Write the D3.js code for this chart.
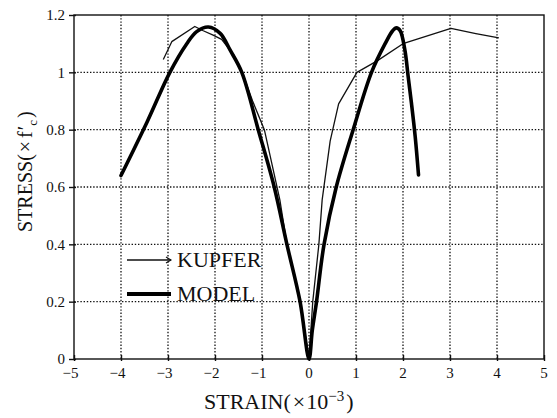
<!DOCTYPE html>
<html>
<head>
<meta charset="utf-8">
<script src="https://cdn.jsdelivr.net/npm/d3@7"></script>
<style>
  body { margin: 0; background: #fff; }
  svg { display: block; font-family: "Liberation Serif", "Times New Roman", "DejaVu Serif", serif; }
</style>
</head>
<body>
<div id="chart"></div>
<script>
// values (strain x10^-3, stress x f'c)
var kupferStrain = [-3.1, -2.92, -2.43, -2.25, -2.04, -1.86, -1.6, -1.4, -1.2, -0.95, -0.62, -0.47, -0.19, 0,
                    0.08, 0.21, 0.28, 0.45, 0.63, 1.02, 1.45, 2.0, 3.02, 3.55, 4.04];
var kupferStress = [1.045, 1.107, 1.16, 1.145, 1.13, 1.115, 1.06, 0.99, 0.9, 0.8, 0.555, 0.4, 0.2, 0,
                    0.2, 0.4, 0.555, 0.76, 0.89, 1.0, 1.04, 1.1, 1.153, 1.135, 1.12];

var modelStrain = [-4, -3.45, -2.96, -2.6, -2.39, -2.14, -1.89, -1.68, -1.43, -1.08, -0.74, -0.47, -0.19, 0,
                   0.07, 0.16, 0.32, 0.58, 0.94, 1.33, 1.62, 1.78, 1.86, 1.94, 2.04, 2.11, 2.18, 2.26, 2.33];
var modelStress = [0.64, 0.825, 1.0, 1.1, 1.142, 1.158, 1.136, 1.078, 1.0, 0.8, 0.6, 0.4, 0.2, 0,
                   0.1, 0.2, 0.4, 0.6, 0.8, 1.0, 1.1, 1.145, 1.155, 1.145, 1.078, 0.985, 0.892, 0.775, 0.642];

var xTicks = [-5, -4, -3, -2, -1, 0, 1, 2, 3, 4, 5];
var yTicks = [0, 0.2, 0.4, 0.6, 0.8, 1, 1.2];
var seriesNames = ['KUPFER', 'MODEL'];

var w = 557, h = 418;
var pL = 74, pR = 544, pT = 15, pB = 359;

var svg = d3.select('#chart').append('svg')
  .attr('width', w)
  .attr('height', h);

var x = d3.scaleLinear().domain([-5, 5]).range([pL, pR]);
var y = d3.scaleLinear().domain([0, 1.2]).range([pB, pT]);

// dotted grid
var grid = svg.append('g')
  .attr('stroke', '#111')
  .attr('stroke-width', 1.3)
  .attr('stroke-dasharray', '1.4,1.8');
grid.selectAll('line.gx')
  .data(xTicks.slice(1, -1))
  .join('line')
  .attr('class', 'gx')
  .attr('x1', d => x(d)).attr('x2', d => x(d))
  .attr('y1', pT).attr('y2', pB);
grid.selectAll('line.gy')
  .data(yTicks.slice(1, -1))
  .join('line')
  .attr('class', 'gy')
  .attr('x1', pL).attr('x2', pR)
  .attr('y1', d => y(d)).attr('y2', d => y(d));

// frame
svg.append('rect')
  .attr('x', pL).attr('y', pT)
  .attr('width', pR - pL).attr('height', pB - pT)
  .attr('fill', 'none')
  .attr('stroke', '#111')
  .attr('stroke-width', 1.4);

// axes (ticks cross the axis line)
var xAxis = d3.axisBottom(x)
  .tickValues(xTicks)
  .tickSizeInner(6)
  .tickSizeOuter(0)
  .tickFormat('');
svg.append('g')
  .attr('transform', 'translate(0,' + (pB - 4) + ')')
  .call(xAxis)
  .call(g => g.select('.domain').remove())
  .selectAll('line').attr('stroke', '#111').attr('stroke-width', 1.4);

var yAxis = d3.axisLeft(y)
  .tickValues(yTicks)
  .tickSizeInner(7)
  .tickSizeOuter(0)
  .tickFormat('');
svg.append('g')
  .attr('transform', 'translate(' + (pL + 2) + ',0)')
  .call(yAxis)
  .call(g => g.select('.domain').remove())
  .selectAll('line').attr('stroke', '#111').attr('stroke-width', 1.4);

// tick labels
svg.append('g')
  .selectAll('text')
  .data(xTicks)
  .join('text')
  .attr('x', d => d < 0 ? x(d) + 4.5 : x(d))
  .attr('y', 378)
  .attr('text-anchor', d => d < 0 ? 'end' : 'middle')
  .attr('font-size', 15)
  .attr('fill', '#111')
  .text(d => d < 0 ? '\u2212' + Math.abs(d) : d);

svg.append('g')
  .selectAll('text')
  .data(yTicks)
  .join('text')
  .attr('x', 65)
  .attr('y', d => y(d))
  .attr('dy', '0.35em')
  .attr('text-anchor', 'end')
  .attr('font-size', 15)
  .attr('fill', '#111')
  .text(d => d);

// curves
var line = d3.line()
  .x(d => x(d[0]))
  .y(d => y(d[1]));

svg.append('path')
  .datum(d3.zip(kupferStrain, kupferStress))
  .attr('fill', 'none')
  .attr('stroke', '#111')
  .attr('stroke-width', 1.3)
  .attr('stroke-linejoin', 'round')
  .attr('d', line);

svg.append('path')
  .datum(d3.zip(modelStrain, modelStress))
  .attr('fill', 'none')
  .attr('stroke', '#000')
  .attr('stroke-width', 3.6)
  .attr('stroke-linejoin', 'round')
  .attr('stroke-linecap', 'round')
  .attr('d', line.curve(d3.curveCatmullRom.alpha(0.5)));

// legend
var lg = svg.append('g');
var ly = [260, 294];
lg.append('line')
  .attr('x1', 127).attr('x2', 171).attr('y1', ly[0]).attr('y2', ly[0])
  .attr('stroke', '#111').attr('stroke-width', 1.3);
lg.append('path')
  .attr('d', 'M166,' + (ly[0] - 3) + 'L171,' + ly[0] + 'L166,' + (ly[0] + 3))
  .attr('fill', 'none').attr('stroke', '#111').attr('stroke-width', 1.1);
lg.append('line')
  .attr('x1', 127).attr('x2', 171).attr('y1', ly[1]).attr('y2', ly[1])
  .attr('stroke', '#000').attr('stroke-width', 4);
lg.selectAll('text')
  .data(seriesNames)
  .join('text')
  .attr('x', 177)
  .attr('y', (d, i) => ly[i] + 7)
  .attr('font-size', 22)
  .attr('fill', '#111')
  .text(d => d);

// axis titles
var xt = svg.append('text')
  .attr('x', 204).attr('y', 409)
  .attr('font-size', 22)
  .attr('fill', '#111');
xt.append('tspan').text('STRAIN(');
xt.append('tspan').attr('dx', 2).text('\u00d7');
xt.append('tspan').attr('dx', 1).text('10');
xt.append('tspan').attr('font-size', 15).attr('dy', -8).text('\u22123');
xt.append('tspan').attr('dy', 8).attr('dx', 2).text(')');

var yt = svg.append('text')
  .attr('transform', 'translate(32,232) rotate(-90)')
  .attr('font-size', 20)
  .attr('fill', '#111');
yt.append('tspan').text('STRESS(');
yt.append('tspan').attr('dx', 2).text('\u00d7');
yt.append('tspan').attr('dx', 3).text('f');
yt.append('tspan').attr('dx', 1).text('\u2032');
yt.append('tspan').attr('font-size', 13).attr('dy', 5).text('c');
yt.append('tspan').attr('dy', -5).attr('dx', 2).text(')');
</script>
</body>
</html>
